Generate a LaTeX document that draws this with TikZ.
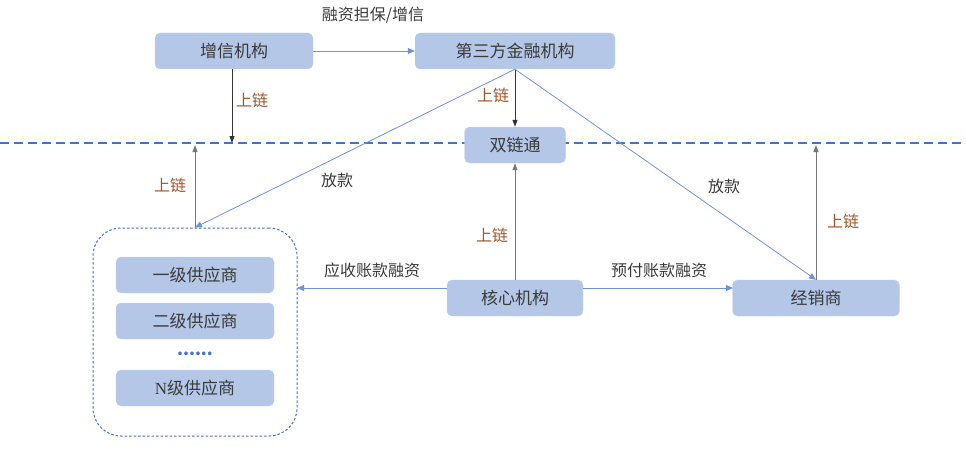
\documentclass[tikz,border=0pt]{standalone}
\usepackage{fontspec}
\setmainfont{Noto Sans CJK SC}
\newfontfamily\latinserif{Liberation Serif}
\usetikzlibrary{arrows.meta}
\definecolor{boxfill}{HTML}{B4C7E7}
\definecolor{boxline}{HTML}{C5D4EE}
\definecolor{txt}{HTML}{3A3A3A}
\definecolor{brown}{HTML}{A0562A}
\definecolor{blueline}{HTML}{6F93D6}
\definecolor{dashblue}{HTML}{4472C4}
\definecolor{grayline}{HTML}{777777}
\begin{document}
\begin{tikzpicture}[x=1pt,y=-1pt,
  box/.style={draw=boxline,fill=boxfill,rounded corners=5pt,text=txt,font=\fontsize{17}{19}\selectfont,inner sep=0pt},
  lbl/.style={text=txt,font=\fontsize{16}{18}\selectfont},
  chain/.style={text=brown,font=\fontsize{16}{18}\selectfont},
  bluearr/.style={draw=blueline,line width=0.8pt,-{Triangle[length=7pt,width=6pt]}},
  grayarr/.style={draw=grayline,line width=1pt,-{Triangle[length=7pt,width=5pt]}},
  blackarr/.style={draw=black!80,line width=1pt,-{Triangle[length=7pt,width=5pt]}}]
\useasboundingbox (0,0) rectangle (966,460);
% dashed line
\coordinate (dl) at (0,143);
\coordinate (dr) at (966,143);
\draw[draw=dashblue,line width=1.2pt,dash pattern=on 9pt off 5pt] (dl) -- (dr);
% nodes
\node[box,minimum width=158pt,minimum height=36pt] (zx) at (234,51) {增信机构};
\node[box,minimum width=200pt,minimum height=36pt] (dsf) at (515,51) {第三方金融机构};
\node[box,minimum width=101pt,minimum height=36pt] (slt) at (515,145) {双链通};
\node[box,minimum width=136pt,minimum height=36pt] (hx) at (515,298) {核心机构};
\node[box,minimum width=167pt,minimum height=36pt] (jxs) at (816,298) {经销商};
\node[draw=dashblue,dash pattern=on 2.5pt off 2pt,line width=1pt,rounded corners=28pt,minimum width=204pt,minimum height=208pt] (grp) at (195,332) {};
\node[box,minimum width=158pt,minimum height=36pt] (s1) at (195,275) {一级供应商};
\node[box,minimum width=158pt,minimum height=36pt] (s2) at (195,321) {二级供应商};
\node[text=dashblue,font=\fontsize{17}{19}\selectfont\bfseries] (dots) at (195,354) {......};
\node[box,minimum width=158pt,minimum height=36pt] (sn) at (195,388) {{\latinserif N}级供应商};
% coordinates
\coordinate (zxd) at (232,143);
\coordinate (s1u) at (195,145);
\coordinate (jxu) at (816,145);
\coordinate (hxl) at (447,288);
\coordinate (hxr) at (583,288);
\coordinate (grr) at (297,288);
\coordinate (jxl) at (733,288);
% labels
\node[lbl] (l1) at (373,15) {融资担保/增信};
\node[chain] (c1) at (252,100) {上链};
\node[chain] (c2) at (170,185) {上链};
\node[chain] (c3) at (493,95) {上链};
\node[chain] (c4) at (492,235) {上链};
\node[chain] (c5) at (843,221) {上链};
\node[lbl] (l2) at (337,180) {放款};
\node[lbl] (l3) at (724,186) {放款};
\node[lbl] (l4) at (372,270) {应收账款融资};
\node[lbl] (l5) at (659,270) {预付账款融资};
% arrows
\draw[bluearr] (zx.east) -- (dsf.west);
\draw[blackarr] (zx.south -| zxd) -- (zxd);
\draw[grayarr] (s1.north |- grp.north) -- (s1u);
\draw[blackarr] (dsf.south) -- (slt.north);
\draw[grayarr] (hx.north) -- (slt.south);
\draw[grayarr] (jxs.north) -- (jxu);
\draw[bluearr] (dsf.south) -- (grp.north);
\draw[bluearr] (dsf.south) -- (jxs.north);
\draw[bluearr] (hxl) -- (grr);
\draw[bluearr] (hxr) -- (jxl);
\end{tikzpicture}
\end{document}
